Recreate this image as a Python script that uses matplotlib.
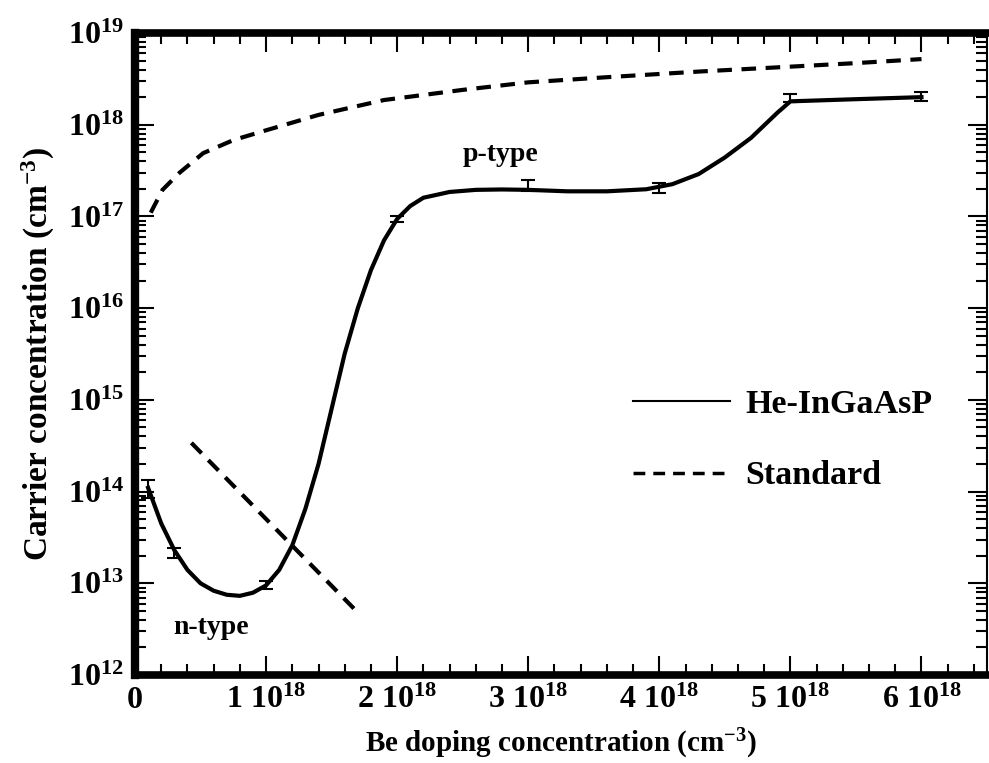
import matplotlib
matplotlib.use("Agg")
import matplotlib.pyplot as plt
from matplotlib.lines import Line2D
from matplotlib.ticker import MultipleLocator, FixedLocator, NullFormatter

plt.rcParams["font.family"] = "Liberation Serif"
plt.rcParams["font.weight"] = "bold"
plt.rcParams["mathtext.fontset"] = "custom"
plt.rcParams["mathtext.rm"] = "Liberation Serif:bold"
plt.rcParams["mathtext.bf"] = "Liberation Serif:bold"
plt.rcParams["mathtext.it"] = "Liberation Serif:bold"

# He-InGaAsP curve (Be doping in 1e18 cm^-3, carrier conc. in cm^-3)
he_x = [0.1, 0.2, 0.3, 0.4, 0.5, 0.6, 0.7, 0.8, 0.9, 1.0, 1.1, 1.2, 1.3,
        1.4, 1.5, 1.6, 1.7, 1.8, 1.9, 2.0, 2.1, 2.2, 2.4, 2.6, 2.8, 3.0,
        3.3, 3.6, 3.9, 4.1, 4.3, 4.5, 4.7, 4.9, 5.0, 5.5, 6.0]
he_y = [1.1e14, 4.5e13, 2.3e13, 1.4e13, 1.0e13, 8.3e12, 7.5e12, 7.3e12,
        7.9e12, 9.5e12, 1.4e13, 2.6e13, 6.5e13, 2.0e14, 8e14, 3.2e15,
        1.0e16, 2.6e16, 5.5e16, 9.4e16, 1.3e17, 1.6e17, 1.85e17, 1.95e17,
        1.97e17, 1.95e17, 1.88e17, 1.88e17, 1.98e17, 2.25e17, 2.9e17,
        4.4e17, 7.2e17, 1.35e18, 1.8e18, 1.9e18, 2.0e18]

# measured points with error bars
pt_x = [0.1, 0.3, 1.0, 2.0, 3.0, 4.0, 5.0, 6.0]
pt_y = [1.05e14, 2.1e13, 9.5e12, 9.4e16, 2.0e17, 2.1e17, 1.85e18, 2.0e18]
pt_lo = [0.2e14, 0.2e13, 0.8e12, 0.8e16, 0.1e17, 0.3e17, 0.1e18, 0.2e18]
pt_hi = [0.3e14, 0.3e13, 1.0e12, 0.8e16, 0.5e17, 0.2e17, 0.3e18, 0.3e18]

# standard curves
std_x = [0.12, 0.21, 0.34, 0.52, 0.75, 1.0, 1.4, 1.9, 2.5, 3.0, 3.6,
         4.3, 5.0, 5.5, 6.0]
std_y = [1.1e17, 1.95e17, 3.0e17, 4.9e17, 6.8e17, 8.7e17, 1.28e18,
         1.86e18, 2.4e18, 2.9e18, 3.3e18, 3.8e18, 4.3e18, 4.7e18, 5.2e18]
std2_x = [0.43, 1.70]
std2_y = [3.4e14, 4.8e12]

xtick_vals = [0, 1, 2, 3, 4, 5, 6]
xtick_labels = ["0"] + [r"%d $10^{18}$" % v for v in xtick_vals[1:]]
ytick_exps = [12, 13, 14, 15, 16, 17, 18, 19]

fig = plt.figure(figsize=(9.89, 7.63), dpi=100)
ax = fig.add_axes([0.1365, 0.1153, 0.8615, 0.8414])

ax.plot(he_x, he_y, color="black", lw=3, solid_joinstyle="round")
ax.errorbar(pt_x, pt_y, yerr=[pt_lo, pt_hi], fmt="none", ecolor="black",
            elinewidth=1.5, capsize=5, capthick=1.5)
dash = (3.5, 2.3)
ax.plot(std_x, std_y, color="black", lw=3, dashes=dash)
ax.plot(std2_x, std2_y, color="black", lw=3, dashes=dash)

ax.set_yscale("log")
ax.set_xlim(0, 6.5)
ax.set_ylim(1e12, 1e19)
ax.xaxis.set_major_locator(FixedLocator(xtick_vals))
ax.set_xticklabels(xtick_labels)
ax.xaxis.set_minor_locator(MultipleLocator(0.2))
ax.yaxis.set_major_locator(FixedLocator([10.0 ** e for e in ytick_exps]))
ax.set_yticklabels([r"$10^{%d}$" % e for e in ytick_exps])
ax.yaxis.set_minor_locator(FixedLocator(
    [m * 10.0 ** e for e in ytick_exps[:-1] for m in range(2, 10)]))
ax.yaxis.set_minor_formatter(NullFormatter())

ax.tick_params(which="both", direction="in", top=True, right=True,
               labelsize=23, color="black")
ax.tick_params(which="major", length=14, width=1.5, pad=8)
ax.tick_params(which="minor", length=8, width=1.5)

ax.spines["top"].set_linewidth(5.5)
ax.spines["left"].set_linewidth(6)
ax.spines["bottom"].set_linewidth(5.5)
ax.spines["right"].set_linewidth(1.5)

ax.set_xlabel(r"Be doping concentration (cm$^{-3}$)", fontsize=21,
              fontweight="bold", labelpad=8)
ax.set_ylabel(r"Carrier concentration (cm$^{-3}$)", fontsize=24,
              fontweight="bold", labelpad=8)

ax.text(2.79, 4.7e17, "p-type", fontsize=20, fontweight="bold", ha="center", va="center")
ax.text(0.58, 3.3e12, "n-type", fontsize=20, fontweight="bold", ha="center", va="center")

handles = [Line2D([], [], color="black", lw=1.5),
           Line2D([], [], color="black", lw=2.5, dashes=(3.4, 2.3))]
ax.legend(handles, ["He-InGaAsP", "Standard"], loc="center left",
          bbox_to_anchor=(0.585, 0.366), frameon=False, fontsize=24.5,
          handlelength=2.85, handletextpad=0.45, labelspacing=1.2,
          borderpad=0, borderaxespad=0)

fig.savefig("out.png", dpi=100)
